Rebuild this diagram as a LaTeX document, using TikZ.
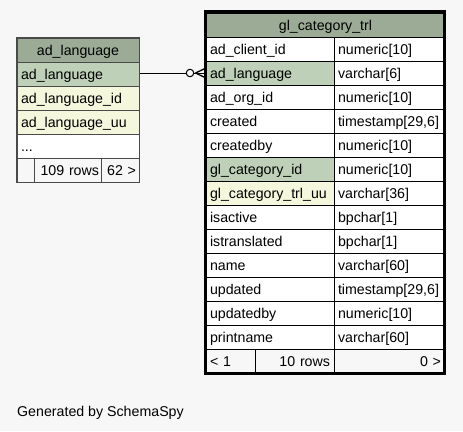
\documentclass[tikz,border=0pt]{standalone}
\usepackage{fontspec}
\setmainfont{Liberation Sans}
\definecolor{pagebg}{HTML}{F7F7F7}
\definecolor{headc}{HTML}{9BAB96}
\definecolor{pkc}{HTML}{BED1B8}
\definecolor{idxc}{HTML}{F4F7DC}
\definecolor{lgray}{HTML}{4A4A4A}
\tikzset{
  cell/.style={rectangle, draw=black, line width=1pt, anchor=north west,
    minimum height=24pt, inner xsep=4pt, inner ysep=0pt,
    text height=13pt, text depth=1.5pt, fill=white},
  lc/.style={cell, text width=120pt, minimum width=128pt, align=left},
  rc/.style={cell, text width=103pt, minimum width=111pt, align=left},
  hd/.style={cell, fill=headc, align=center},
  tc/.style={cell, draw=lgray, text width=114pt, minimum width=122pt, align=left},
  ft/.style={cell, fill=pagebg},
  conn/.style={draw=black, line width=1pt},
}
\begin{document}
\begin{tikzpicture}[x=1pt,y=-1pt,font=\fontsize{14.2}{17}\selectfont]
\fill[pagebg] (0,0) rectangle (463,431);
\useasboundingbox (0,0) rectangle (463,431);

% ---- left table: ad_language
\node[hd, draw=lgray, text width=114pt, minimum width=122pt] (lh) at (16.5,37.5) {ad\_language};
\node[tc, fill=pkc]  (la1) at (16.5,61.5)  {ad\_language};
\node[tc, fill=idxc] (la2) at (16.5,85.5)  {ad\_language\_id};
\node[tc, fill=idxc] (la3) at (16.5,109.5) {ad\_language\_uu};
\node[tc]            (la4) at (16.5,133.5) {...};
\node[ft, draw=lgray, minimum width=17pt] (lf1) at (16.5,157.5) {};
\node[ft, draw=lgray, inner xsep=2pt, text width=63pt, minimum width=67pt, align=right] (lf2) at (33.5,157.5) {109 rows};
\node[ft, draw=lgray, inner xsep=3pt, text width=32pt, minimum width=38pt, align=right] (lf3) at (100.5,157.5) {62 >};
\draw[lgray, line width=1.5pt] (lh.north west) rectangle (lf3.south east);

% ---- right table: gl_category_trl
\node[hd, text width=231pt, minimum width=239pt] (rh) at (205.5,12.5) {gl\_category\_trl};
\node[lc]            (ra1)  at (205.5,36.5)  {ad\_client\_id};
\node[rc]            (rb1)  at (333.5,36.5)  {numeric[10]};
\node[lc, fill=pkc]  (ra2)  at (205.5,60.5)  {ad\_language};
\node[rc]            (rb2)  at (333.5,60.5)  {varchar[6]};
\node[lc]            (ra3)  at (205.5,84.5)  {ad\_org\_id};
\node[rc]            (rb3)  at (333.5,84.5)  {numeric[10]};
\node[lc]            (ra4)  at (205.5,108.5) {created};
\node[rc]            (rb4)  at (333.5,108.5) {timestamp[29,6]};
\node[lc]            (ra5)  at (205.5,132.5) {createdby};
\node[rc]            (rb5)  at (333.5,132.5) {numeric[10]};
\node[lc, fill=pkc]  (ra6)  at (205.5,156.5) {gl\_category\_id};
\node[rc]            (rb6)  at (333.5,156.5) {numeric[10]};
\node[lc, fill=idxc] (ra7)  at (205.5,180.5) {gl\_category\_trl\_uu};
\node[rc]            (rb7)  at (333.5,180.5) {varchar[36]};
\node[lc]            (ra8)  at (205.5,204.5) {isactive};
\node[rc]            (rb8)  at (333.5,204.5) {bpchar[1]};
\node[lc]            (ra9)  at (205.5,228.5) {istranslated};
\node[rc]            (rb9)  at (333.5,228.5) {bpchar[1]};
\node[lc]            (ra10) at (205.5,252.5) {name};
\node[rc]            (rb10) at (333.5,252.5) {varchar[60]};
\node[lc]            (ra11) at (205.5,276.5) {updated};
\node[rc]            (rb11) at (333.5,276.5) {timestamp[29,6]};
\node[lc]            (ra12) at (205.5,300.5) {updatedby};
\node[rc]            (rb12) at (333.5,300.5) {numeric[10]};
\node[lc]            (ra13) at (205.5,324.5) {printname};
\node[rc]            (rb13) at (333.5,324.5) {varchar[60]};
\node[ft, text width=41pt, minimum width=49pt, align=left]  (rf1) at (205.5,348.5) {< 1};
\node[ft, text width=71pt, minimum width=79pt, align=right] (rf2) at (254.5,348.5) {10 rows};
\node[ft, text width=103pt, minimum width=111pt, align=right] (rf3) at (333.5,348.5) {0 >};
\draw[black, line width=3pt] (205.5,11) rectangle (444.5,373.5);

% ---- connector ad_language -> gl_category_trl.ad_language
\node[circle, draw=black, fill=pagebg, line width=1pt, inner sep=0pt, minimum size=7.5pt] (od) at (190,73) {};
\coordinate (apex) at (195.5,73);
\coordinate (ct) at (205,68.5);
\coordinate (cm) at (205,73);
\coordinate (cb) at (205,77.5);
\draw[conn] (la1.east |- od.west) -- (od.west);
\draw[conn] (od.east) -- (cm);
\draw[conn, line width=1.3pt] (apex) -- (ct);
\draw[conn, line width=1.3pt] (apex) -- (cb);

% ---- footer
\node[anchor=base west, inner sep=0pt] (gen) at (17,416) {Generated by SchemaSpy};
\end{tikzpicture}
\end{document}
